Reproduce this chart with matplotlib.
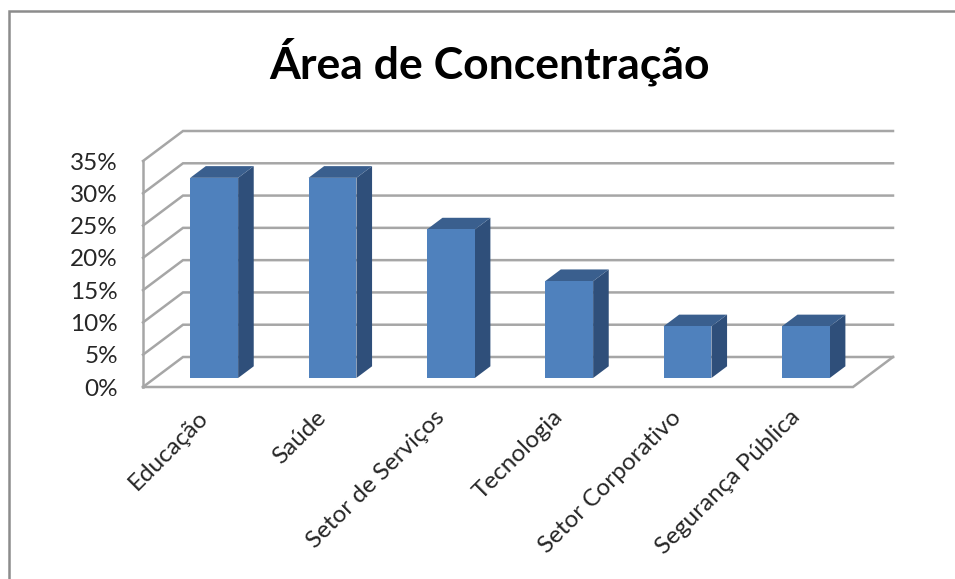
import matplotlib
matplotlib.use("Agg")
import matplotlib.pyplot as plt
from matplotlib.lines import Line2D
from matplotlib.patches import Polygon
from matplotlib.transforms import ScaledTranslation

plt.rcParams['font.family'] = ['Lato', 'DejaVu Sans']

categories = ["Educação", "Saúde", "Setor de Serviços", "Tecnologia",
              "Setor Corporativo", "Segurança Pública"]
values = [31, 31, 23, 15, 8, 8]
y_ticks = [0, 5, 10, 15, 20, 25, 30, 35]

W, H = 955, 579
GRID = "#a6a6a6"
FRONT = "#4f81bd"
TOP = "#3a5f8e"
SIDE = "#2f4f7a"
# how far the back wall sits from the front, in data units
DEPTH_X = 40 / (710 / 6)
DEPTH_Y = 30 / (226 / 35)


def depth(x, y, d):
    return x + d * DEPTH_X, y + d * DEPTH_Y


fig = plt.figure(figsize=(W / 100, H / 100), dpi=100)
ax = fig.add_axes([143 / W, 1 - 387 / H, 710 / W, 226 / H])
ax.set_xlim(0, len(categories))
ax.set_ylim(0, 35)
for s in ax.spines.values():
    s.set_visible(False)

# walls
n = len(categories)
for v in y_ticks:
    ax.plot(*zip(depth(0, v, 0), depth(0, v, 1), depth(n, v, 1)), color=GRID, lw=1.8,
            clip_on=False, zorder=1, solid_joinstyle="miter")
ax.plot([0, 0], [0, 35], color=GRID, lw=1.8, clip_on=False, zorder=1)
ax.plot(*zip(depth(0, 0, 0), depth(n, 0, 0), depth(n, 0, 1)), color=GRID, lw=1.8,
        clip_on=False, zorder=1, solid_joinstyle="miter")

# bars
bar_w = 0.405
d0, d1 = 0.30, 0.69
for i, v in enumerate(values):
    l = i + 0.5 - bar_w / 2
    r = i + 0.5 + bar_w / 2
    ax.add_patch(Polygon([depth(r, 0, d0), depth(r, 0, d1), depth(r, v, d1), depth(r, v, d0)],
                         facecolor=SIDE, edgecolor="none", clip_on=False, zorder=3))
    ax.add_patch(Polygon([depth(l, v, d0), depth(r, v, d0), depth(r, v, d1), depth(l, v, d1)],
                         facecolor=TOP, edgecolor="none", clip_on=False, zorder=3))
    ax.add_patch(Polygon([depth(l, 0, d0), depth(r, 0, d0), depth(r, v, d0), depth(l, v, d0)],
                         facecolor=FRONT, edgecolor="none", clip_on=False, zorder=4))

ax.set_yticks(y_ticks)
ax.set_yticklabels([f"{v}%" for v in y_ticks], fontsize=17.5, color="#262626")
ax.set_xticks([i + 0.5 for i in range(n)])
ax.set_xticklabels(categories, fontsize=17.5, color="#262626", rotation=45,
                   ha="right", va="top", rotation_mode="anchor")
ax.tick_params(axis="y", length=0, pad=18)
ax.tick_params(axis="x", length=0, pad=14)
# labels sit a little left of their tick in the original
shift = ScaledTranslation(-5 / 100, 0, fig.dpi_scale_trans)
for lab in ax.get_xticklabels():
    lab.set_transform(lab.get_transform() + shift)

fig.text(489 / W, 1 - 62 / H, "Área de Concentração", fontsize=32, fontweight="bold",
         color="black", ha="center", va="center")

# chart frame, only top and left show in the crop
fig.add_artist(Line2D([9 / W, 9 / W, 1], [0, 1 - 11 / H, 1 - 11 / H], color="#8c8c8c", lw=1.8,
                      solid_joinstyle="miter"))

fig.savefig("out.png", dpi=100)
